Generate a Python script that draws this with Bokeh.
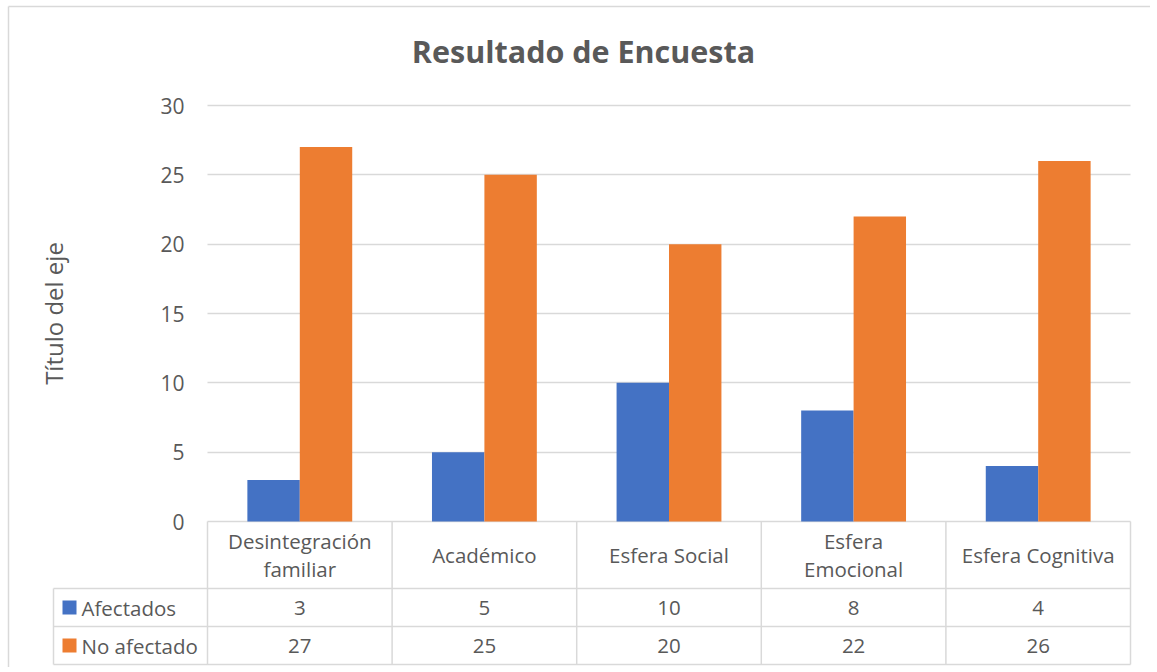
from bokeh.plotting import figure
from bokeh.models import Range1d, FixedTicker, ColumnDataSource, Label, Grid
from bokeh.transform import dodge
from bokeh.embed import file_html
from bokeh.resources import INLINE
from bokeh.core.properties import value

# ---------------- data ----------------
categories = ["Desintegración\nfamiliar", "Académico", "Esfera Social",
              "Esfera\nEmocional", "Esfera Cognitiva"]
series_names = ["Afectados", "No afectado"]
afectados = [3, 5, 10, 8, 4]
no_afectado = [27, 25, 20, 22, 26]
y_ticks = [0, 5, 10, 15, 20, 25, 30]
title_text = "Resultado de Encuesta"
y_title = "Título del eje"

# ---------------- style / layout ----------------
BLUE = "#4472C4"
ORANGE = "#ED7D31"
TEXT = "#595959"
GRID = "#D9D9D9"
FONT = "Open Sans"
W, H = 1150, 667
X0_PX, XN_PX = 207, 1130       # plot-area left / right (px in figure)
Y0_PX, YT_PX = 521, 105        # value 0 / top tick (px in figure)
LAB_PX = 154                   # legend column width
HEAD_PX, ROW_PX = 67, 38       # data-table row heights
BORDER_X, BORDER_Y = 8, 6      # chart-area border
BAR_W = 0.284

n = len(categories)
ymax = max(y_ticks)
u = (XN_PX - X0_PX) / n        # px per category
v = (Y0_PX - YT_PX) / ymax     # px per value unit

p = figure(width=W, height=H,
           x_range=Range1d(-X0_PX / u, n + (W - XN_PX) / u),
           y_range=Range1d(-(H - Y0_PX) / v, ymax + YT_PX / v),
           x_axis_location=None,
           output_backend="svg", toolbar_location=None,
           min_border_left=0, min_border_right=0,
           min_border_top=0, min_border_bottom=0,
           outline_line_color=None)

# ---------------- chart-area border ----------------
bx = (BORDER_X - X0_PX) / u
by = (Y0_PX - BORDER_Y) / v
p.segment(x0=[bx, bx], y0=[by, by], x1=[bx, p.x_range.end], y1=[p.y_range.start, by],
          line_color=GRID, line_width=1.5)

# ---------------- bars ----------------
src = ColumnDataSource(dict(xc=[i + 0.5 for i in range(n)], a=afectados, n=no_afectado))
p.vbar(x=dodge("xc", -BAR_W / 2), top="a", width=BAR_W, source=src,
       fill_color=BLUE, line_color=None)
p.vbar(x=dodge("xc", BAR_W / 2), top="n", width=BAR_W, source=src,
       fill_color=ORANGE, line_color=None)

# ---------------- y axis ----------------
ax = p.yaxis[0]
ax.fixed_location = 0
ax.bounds = (0, ymax)
ax.ticker = FixedTicker(ticks=y_ticks)
ax.axis_line_color = None
ax.major_tick_line_color = None
ax.minor_tick_line_color = None
ax.major_tick_out = 0
ax.major_tick_in = 0
ax.major_label_standoff = 23
ax.major_label_text_font = FONT
ax.major_label_text_font_size = "21px"
ax.major_label_text_color = TEXT
ax.axis_label = y_title
ax.axis_label_text_font = FONT
ax.axis_label_text_font_size = "24px"
ax.axis_label_text_font_style = "normal"
ax.axis_label_text_color = TEXT
ax.axis_label_standoff = 87

p.xgrid.visible = False
p.ygrid.grid_line_color = GRID
p.ygrid.grid_line_width = 1.5
if "cross_bounds" in Grid.properties():
    p.ygrid.cross_bounds = (0, n)
else:
    p.ygrid.visible = False
    p.segment(x0=[0] * len(y_ticks), y0=y_ticks, x1=[n] * len(y_ticks), y1=y_ticks,
              line_color=GRID, line_width=1.5, level="underlay")

# ---------------- title ----------------
p.add_layout(Label(x=(583 - X0_PX) / u, y=(Y0_PX - 50) / v,
                   text=title_text, text_align="center", text_baseline="alphabetic",
                   text_font=FONT, text_font_size="30.5px", text_font_style="bold",
                   text_color=TEXT))

# ---------------- data table ----------------
rows = len(series_names)
LAB = LAB_PX / u
head_bottom = -HEAD_PX / v
row_lines = [head_bottom - k * ROW_PX / v for k in range(rows + 1)]
table_bottom = row_lines[-1]

t_line = dict(line_color=GRID, line_width=1.5)
p.segment(x0=[-LAB] * (rows + 1), y0=row_lines, x1=[n] * (rows + 1), y1=row_lines, **t_line)
p.segment(x0=list(range(n + 1)), y0=[table_bottom] * (n + 1),
          x1=list(range(n + 1)), y1=[0] * (n + 1), **t_line)
p.segment(x0=[-LAB], y0=[table_bottom], x1=[-LAB], y1=[head_bottom], **t_line)

centers = [i + 0.5 for i in range(n)]
p.text(x=centers, y=[head_bottom / 2] * n, text=categories,
       text_align="center", text_baseline="middle", text_line_height=0.97,
       text_font=value(FONT), text_font_size="20.5px", text_color=TEXT)

row_y = [(row_lines[k] + row_lines[k + 1]) / 2 for k in range(rows)]
colors = [BLUE, ORANGE]
p.rect(x=[-LAB + 16 / u] * rows, y=row_y, width=14, height=14,
       width_units="screen", height_units="screen", fill_color=colors, line_color=None)
p.text(x=[-LAB + 28 / u] * rows, y=row_y, text=series_names,
       text_align="left", text_baseline="middle",
       text_font=value(FONT), text_font_size="20.5px", text_color=TEXT)

for vals, yy in zip([afectados, no_afectado], row_y):
    p.text(x=centers, y=[yy] * n, text=[str(val) for val in vals],
           text_align="center", text_baseline="middle",
           text_font=value(FONT), text_font_size="20.5px", text_color=TEXT)

open("out.html", "w").write(file_html(p, INLINE))
